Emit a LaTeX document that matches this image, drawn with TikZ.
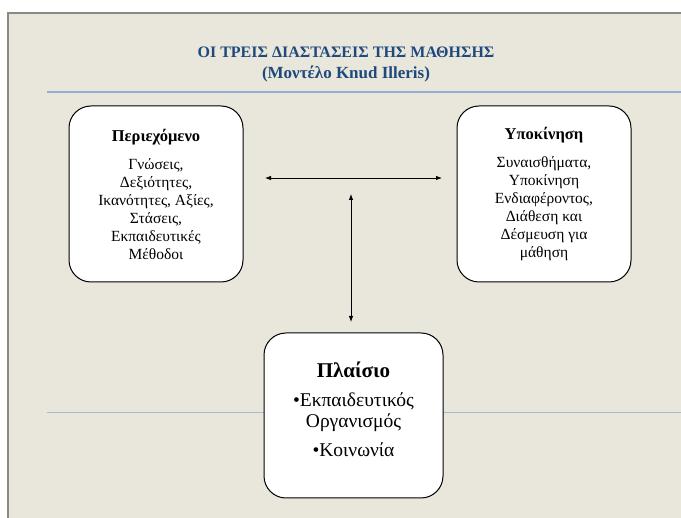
\documentclass[tikz,border=0pt]{standalone}
\usepackage{fontspec}
\setmainfont{Liberation Serif}
\usetikzlibrary{arrows.meta}
\definecolor{paper}{HTML}{E9E7DB}
\definecolor{frame}{HTML}{8A8A84}
\definecolor{rule}{HTML}{94AED0}
\definecolor{ruletwo}{HTML}{A9BCCB}
\definecolor{titleblue}{HTML}{1F497D}
\tikzset{
  dimbox/.style={draw=black, line width=1pt, fill=white, rounded corners=22pt,
    align=center, minimum width=174pt, minimum height=176pt,
    font=\fontsize{15.5}{18}\selectfont},
  link/.style={line width=0.8pt, {Latex[length=6pt,width=4.5pt]}-{Latex[length=6pt,width=4.5pt]}}
}
\begin{document}
\begin{tikzpicture}[x=1pt, y=-1pt]
      \useasboundingbox (0,0) rectangle (681,518);
      % background of the slide
      \fill[paper] (8,13) rectangle (681,518);
      \draw[frame, line width=1.5pt] (8,518) -- (8,13) -- (681,13);
      \draw[rule, line width=2pt] (47,92) -- (681,92);
      \draw[ruletwo, line width=0.8pt] (47,412) -- (681,412);

      \node[titleblue, font=\fontsize{16}{21}\selectfont\bfseries, align=center](title) at (346,65)
        {ΟΙ ΤΡΕΙΣ ΔΙΑΣΤΑΣΕΙΣ ΤΗΣ ΜΑΘΗΣΗΣ\\{\fontsize{17}{21}\selectfont(Μοντέλο Knud Illeris)}};

      \node[dimbox](content) at (156,194)
        {{\fontsize{16.5}{18}\selectfont\textbf{Περιεχόμενο}}\\[10pt]Γνώσεις,\\Δεξιότητες,\\Ικανότητες, Αξίες,\\Στάσεις,\\Εκπαιδευτικές\\Μέθοδοι};
      \node[dimbox](motive) at (544,194)
        {{\fontsize{16.5}{18}\selectfont\textbf{Υποκίνηση}}\\[10pt]Συναισθήματα,\\Υποκίνηση\\Ενδιαφέροντος,\\Διάθεση και\\Δέσμευση για\\μάθηση};
      \node[dimbox, minimum width=179pt, minimum height=165pt, font=\fontsize{19.5}{21}\selectfont](setting) at (353.5,415.5)
        {{\fontsize{21}{22}\selectfont\textbf{Πλαίσιο}}\\[8pt]•Εκπαιδευτικός\\Οργανισμός\\[8pt]•Κοινωνία\\[-9pt]};

      \coordinate (hl) at (265,178);
      \coordinate (hr) at (442,178);
      \coordinate (vt) at (351,194);
      \coordinate (vb) at (351,322);
      \draw[link] (hl) -- (hr);
      \draw[link] (vt) -- (vb);
    \end{tikzpicture}
\end{document}
